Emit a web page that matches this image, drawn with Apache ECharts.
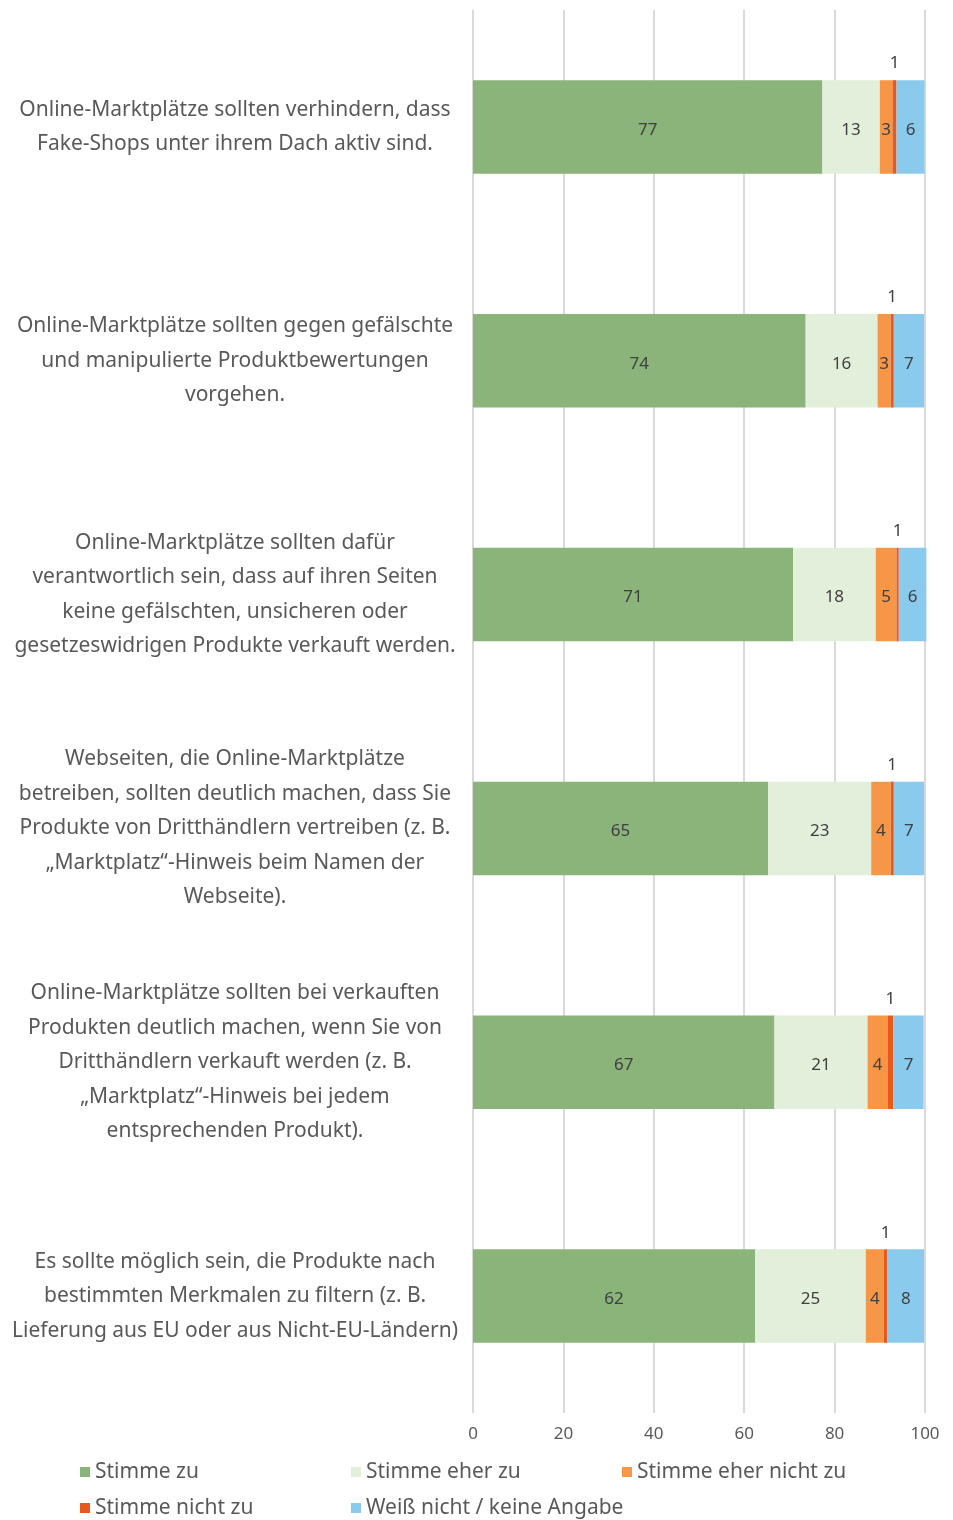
<!DOCTYPE HTML>
<html lang="de">
  <head>
    <meta charset="utf-8" />
    <script src="https://cdn.jsdelivr.net/npm/echarts@6.0.0/dist/echarts.min.js"></script>
    <style>
      html, body {
        height: 100%;
        padding: 0;
        margin: 0;
        background: #fff;
      }
      #chart {
        width: 953px;
        height: 1520px;
      }
    </style>
  </head>
  <body>
    <div id="chart"></div>
    <script>
      // categories (top to bottom)
      var statements = [
        'Online-Marktplätze sollten verhindern, dass\nFake-Shops unter ihrem Dach aktiv sind.',
        'Online-Marktplätze sollten gegen gefälschte\nund manipulierte Produktbewertungen\nvorgehen.',
        'Online-Marktplätze sollten dafür\nverantwortlich sein, dass auf ihren Seiten\nkeine gefälschten, unsicheren oder\ngesetzeswidrigen Produkte verkauft werden.',
        'Webseiten, die Online-Marktplätze\nbetreiben, sollten deutlich machen, dass Sie\nProdukte von Dritthändlern vertreiben (z. B.\n„Marktplatz“-Hinweis beim Namen der\nWebseite).',
        'Online-Marktplätze sollten bei verkauften\nProdukten deutlich machen, wenn Sie von\nDritthändlern verkauft werden (z. B.\n„Marktplatz“-Hinweis bei jedem\nentsprechenden Produkt).',
        'Es sollte möglich sein, die Produkte nach\nbestimmten Merkmalen zu filtern (z. B.\nLieferung aus EU oder aus Nicht-EU-Ländern)'
      ];

      // series values in percent (labels shown rounded)
      var stimmeZu         = [77.3, 73.6, 70.8, 65.3, 66.7, 62.4];
      var stimmeEherZu     = [12.7, 15.9, 18.3, 22.8, 20.6, 24.5];
      var stimmeEherNicht  = [2.8, 2.9, 4.6, 4.3, 4.4, 4.0];
      var stimmeNichtZu    = [0.9, 0.7, 0.5, 0.7, 1.3, 0.8];
      var weissNicht       = [6.2, 6.7, 6.1, 6.7, 6.7, 8.1];

      var seriesNames = ['Stimme zu', 'Stimme eher zu', 'Stimme eher nicht zu', 'Stimme nicht zu', 'Weiß nicht / keine Angabe'];
      var seriesData = [stimmeZu, stimmeEherZu, stimmeEherNicht, stimmeNichtZu, weissNicht];
      var colors = ['#8AB47A', '#E2EFDA', '#F79646', '#E65A1E', '#8ACAEC'];

      var fontFam = '"Noto Sans", sans-serif';

      var series = seriesData.map(function (d, i) {
        return {
          name: seriesNames[i],
          type: 'bar',
          stack: 'total',
          data: d,
          barWidth: '40%',
          clip: false,
          itemStyle: { color: colors[i] },
          label: {
            show: true,
            position: i === 3 ? 'top' : 'inside',
            distance: 8,
            offset: i === 3 ? [0, 0] : [0, 3],
            color: '#404040',
            fontSize: 17,
            fontFamily: fontFam,
            formatter: function (p) { return Math.round(p.value); }
          }
        };
      });

      var chart = echarts.init(document.getElementById('chart'));
      chart.setOption({
        animation: false,
        color: colors,
        grid: { left: 473, right: 28, top: 10, bottom: 107, containLabel: false },
        xAxis: {
          type: 'value',
          min: 0,
          max: 100,
          interval: 20,
          axisLine: { show: false },
          axisTick: { show: false },
          splitLine: { show: true, lineStyle: { color: '#D9D9D9', width: 2 } },
          axisLabel: { color: '#595959', fontSize: 17, fontFamily: fontFam, margin: 13 }
        },
        yAxis: {
          type: 'category',
          inverse: true,
          data: statements,
          axisLine: { show: false },
          axisTick: { show: false },
          axisLabel: {
            align: 'center',
            margin: 238,
            color: '#595959',
            fontSize: 21,
            lineHeight: 34.5,
            fontFamily: fontFam,
            interval: 0
          }
        },
        legend: {
          left: 75,
          top: 1454,
          width: 830,
          itemWidth: 10,
          itemHeight: 10,
          itemGap: 10,
          icon: 'rect',
          data: seriesNames,
          textStyle: {
            color: '#595959',
            fontSize: 21,
            fontFamily: fontFam,
            width: 246,
            lineHeight: 26
          }
        },
        series: series
      });
    </script>
  </body>
</html>
